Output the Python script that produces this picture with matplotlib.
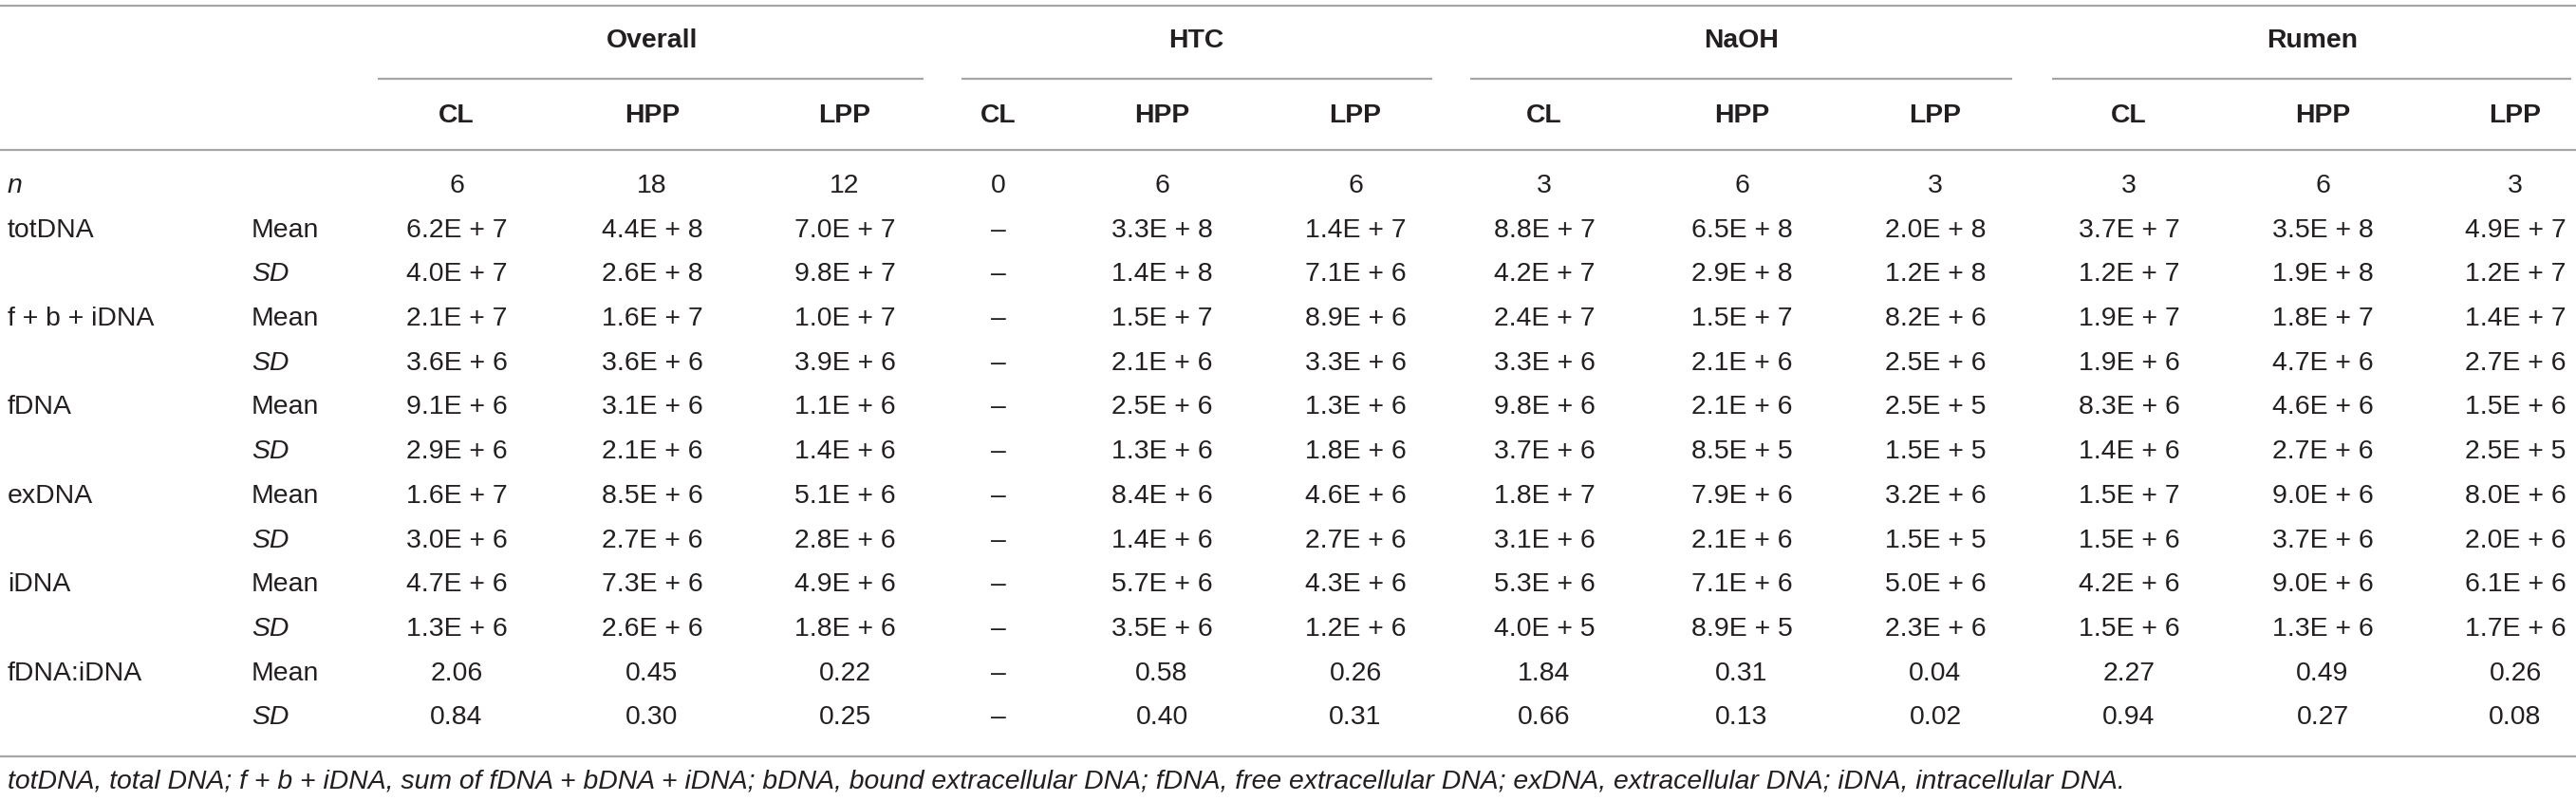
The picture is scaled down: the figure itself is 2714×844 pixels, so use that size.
import matplotlib
matplotlib.use("Agg")
import matplotlib.pyplot as plt

# ---- table content -------------------------------------------------------
groups = ["Overall", "HTC", "NaOH", "Rumen"]
subcols = ["CL", "HPP", "LPP"] * 4
n_values = [6, 18, 12, 0, 6, 6, 3, 6, 3, 3, 6, 3]

variables = ["totDNA", "f + b + iDNA", "fDNA", "exDNA", "iDNA", "fDNA:iDNA"]

tot_mean = [6.2e7, 4.4e8, 7.0e7, None, 3.3e8, 1.4e7, 8.8e7, 6.5e8, 2.0e8, 3.7e7, 3.5e8, 4.9e7]
tot_sd = [4.0e7, 2.6e8, 9.8e7, None, 1.4e8, 7.1e6, 4.2e7, 2.9e8, 1.2e8, 1.2e7, 1.9e8, 1.2e7]
fbi_mean = [2.1e7, 1.6e7, 1.0e7, None, 1.5e7, 8.9e6, 2.4e7, 1.5e7, 8.2e6, 1.9e7, 1.8e7, 1.4e7]
fbi_sd = [3.6e6, 3.6e6, 3.9e6, None, 2.1e6, 3.3e6, 3.3e6, 2.1e6, 2.5e6, 1.9e6, 4.7e6, 2.7e6]
f_mean = [9.1e6, 3.1e6, 1.1e6, None, 2.5e6, 1.3e6, 9.8e6, 2.1e6, 2.5e5, 8.3e6, 4.6e6, 1.5e6]
f_sd = [2.9e6, 2.1e6, 1.4e6, None, 1.3e6, 1.8e6, 3.7e6, 8.5e5, 1.5e5, 1.4e6, 2.7e6, 2.5e5]
ex_mean = [1.6e7, 8.5e6, 5.1e6, None, 8.4e6, 4.6e6, 1.8e7, 7.9e6, 3.2e6, 1.5e7, 9.0e6, 8.0e6]
ex_sd = [3.0e6, 2.7e6, 2.8e6, None, 1.4e6, 2.7e6, 3.1e6, 2.1e6, 1.5e5, 1.5e6, 3.7e6, 2.0e6]
i_mean = [4.7e6, 7.3e6, 4.9e6, None, 5.7e6, 4.3e6, 5.3e6, 7.1e6, 5.0e6, 4.2e6, 9.0e6, 6.1e6]
i_sd = [1.3e6, 2.6e6, 1.8e6, None, 3.5e6, 1.2e6, 4.0e5, 8.9e5, 2.3e6, 1.5e6, 1.3e6, 1.7e6]
ratio_mean = [2.06, 0.45, 0.22, None, 0.58, 0.26, 1.84, 0.31, 0.04, 2.27, 0.49, 0.26]
ratio_sd = [0.84, 0.30, 0.25, None, 0.40, 0.31, 0.66, 0.13, 0.02, 0.94, 0.27, 0.08]

footnote = ("totDNA, total DNA; f + b + iDNA, sum of fDNA + bDNA + iDNA; "
            "bDNA, bound extracellular DNA; fDNA, free extracellular DNA; "
            "exDNA, extracellular DNA; iDNA, intracellular DNA.")

# ---- layout (pixels, y grows downwards) -----------------------------------
W, H = 2714, 844
INK = "#231f20"
RULE = "#a6a6a6"
FS = 20.4
FONT = "Liberation Sans"

col_x = [481, 687, 890, 1052, 1224, 1428, 1627, 1835, 2039, 2243, 2447, 2650]
group_spans = [(398, 973), (1013, 1509), (1549, 2120), (2162, 2709)]
group_x = [687, 1260, 1835, 2436]
label_x, stat_x = 8, 265
y_top, y_group, y_underline, y_sub, y_head = 6, 43, 83, 122, 158
y_first, row_step = 196, 46.7
y_bottom, y_note = 797, 823


def sci(v):
    if v is None:
        return "–"
    mant, exp = f"{v:.1E}".split("E")
    return f"{mant}E + {int(exp)}"


def dec(v):
    return "–" if v is None else f"{v:.2f}"


fig = plt.figure(figsize=(W / 100, H / 100), dpi=100)
ax = fig.add_axes([0, 0, 1, 1])
ax.set_xlim(0, W)
ax.set_ylim(H, 0)
ax.axis("off")

txt = dict(fontsize=FS, color=INK, family=FONT, va="center")

# rules
for y in (y_top, y_head, y_bottom):
    ax.plot([0, W], [y, y], color=RULE, lw=1.6, solid_capstyle="butt")
for x0, x1 in group_spans:
    ax.plot([x0, x1], [y_underline, y_underline], color=RULE, lw=1.6,
            solid_capstyle="butt")

# header
for g, gx in zip(groups, group_x):
    ax.text(gx, y_group, g, ha="center", fontweight="bold", **txt)
for s, cx in zip(subcols, col_x):
    ax.text(cx, y_sub, s, ha="center", fontweight="bold", **txt)

# n row
ax.text(label_x, y_first, "n", ha="left", style="italic", **txt)
for v, cx in zip(n_values, col_x):
    ax.text(cx, y_first, str(v), ha="center", **txt)

# body rows
body = [
    (tot_mean, tot_sd, sci),
    (fbi_mean, fbi_sd, sci),
    (f_mean, f_sd, sci),
    (ex_mean, ex_sd, sci),
    (i_mean, i_sd, sci),
    (ratio_mean, ratio_sd, dec),
]
for k, (name, (means, sds, fmt)) in enumerate(zip(variables, body)):
    y_m = y_first + row_step * (2 * k + 1)
    y_s = y_m + row_step
    ax.text(label_x, y_m, name, ha="left", **txt)
    ax.text(stat_x, y_m, "Mean", ha="left", **txt)
    ax.text(stat_x, y_s, "SD", ha="left", style="italic", **txt)
    for cx, m, s in zip(col_x, means, sds):
        ax.text(cx, y_m, fmt(m), ha="center", **txt)
        ax.text(cx, y_s, fmt(s), ha="center", **txt)

ax.text(label_x, y_note, footnote, ha="left", style="italic", **txt)

fig.savefig("out.png", dpi=100, facecolor="white")
